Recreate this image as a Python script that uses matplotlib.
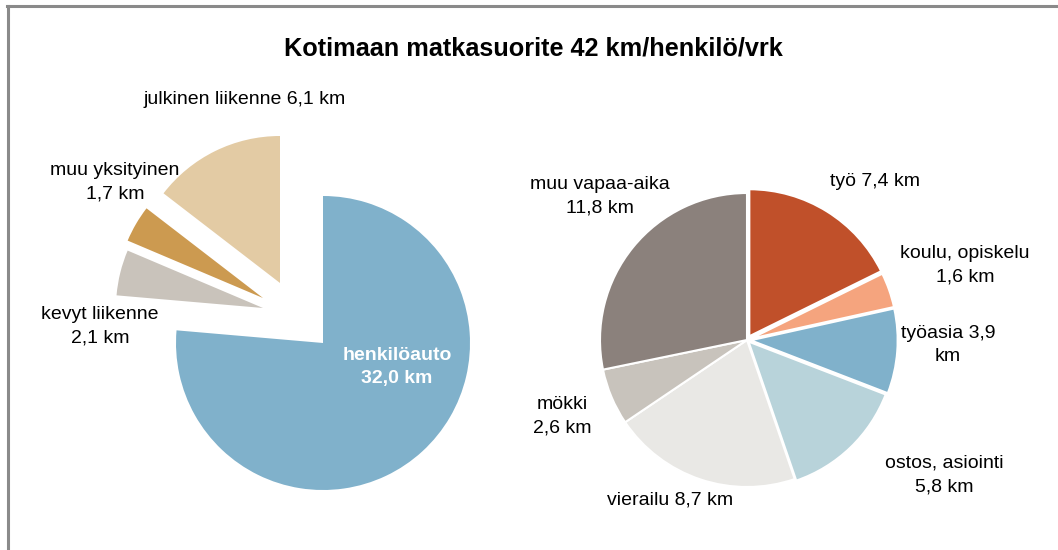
import matplotlib
matplotlib.use("Agg")
import matplotlib.pyplot as plt
from matplotlib.lines import Line2D

plt.rcParams['font.family'] = ['Liberation Sans', 'DejaVu Sans']

# Left pie: mode of transport (km/person/day)
left_labels = ["henkilöauto", "kevyt liikenne", "muu yksityinen", "julkinen liikenne"]
left_values = [32.0, 2.1, 1.7, 6.1]
left_colors = ["#80b1cb", "#c9c3bb", "#cc9a50", "#e3cba4"]
left_texts = ["henkilöauto\n32,0 km", "kevyt liikenne\n2,1 km", "muu yksityinen\n1,7 km",
              "julkinen liikenne 6,1 km"]

# Right pie: purpose of trip
right_labels = ["työ", "koulu, opiskelu", "työasia", "ostos, asiointi", "vierailu", "mökki", "muu vapaa-aika"]
right_values = [7.4, 1.6, 3.9, 5.8, 8.7, 2.6, 11.8]
right_colors = ["#c0502a", "#f5a47e", "#80b1cb", "#b8d3da", "#e9e8e5", "#c8c3bc", "#8b817c"]
right_texts = ["työ 7,4 km", "koulu, opiskelu\n1,6 km", "työasia 3,9\nkm", "ostos, asiointi\n5,8 km",
               "vierailu 8,7 km", "mökki\n2,6 km", "muu vapaa-aika\n11,8 km"]

title = "Kotimaan matkasuorite 42 km/henkilö/vrk"

W, H = 1058, 550
fig = plt.figure(figsize=(W / 100, H / 100), dpi=100)
ax = fig.add_axes([0, 0, 1, 1])
ax.set_axis_off()

def Y(y):
    return H - y

R = 147
LC = (323, Y(343))
RC = (747, Y(340))

# pulled-out slices of the left pie (style: offset of each wedge, in pixels)
left_offsets = [(0, 0), (-60, 35), (-60, 45), (-43, 60)]
right_explode = [f * R for f in [0.03, 0.025, 0.025, 0.015, 0, 0, 0]]

wl, _ = ax.pie(left_values, colors=left_colors, startangle=90, counterclock=False,
               center=LC, radius=R, wedgeprops=dict(linewidth=0))
for w, (dx, dy) in zip(wl, left_offsets):
    w.set_center((LC[0] + dx, LC[1] + dy))

ax.pie(right_values, colors=right_colors, startangle=90, counterclock=False,
       center=RC, radius=R, explode=right_explode,
       wedgeprops=dict(linewidth=1.5, edgecolor="white"))

ax.set_xlim(0, W)
ax.set_ylim(0, H)
ax.set_aspect('auto')

fs = 14
ls = 1.5
ax.text(397, Y(367), left_texts[0], ha='center', va='center', fontsize=fs, color='white',
        fontweight='bold', linespacing=ls)
ax.text(100, Y(326), left_texts[1], ha='center', va='center', fontsize=fs, linespacing=ls)
ax.text(115, Y(182), left_texts[2], ha='center', va='center', fontsize=fs, linespacing=ls)
ax.text(245, Y(100), left_texts[3], ha='center', va='center', fontsize=fs)

pos = [(875, 182), (965, 265), (948, 345), (944, 475), (670, 500), (562, 416), (600, 196)]
for (x, y), t in zip(pos, right_texts):
    ax.text(x, Y(y), t, ha='center', va='center', fontsize=fs, linespacing=ls)

ax.text(533, Y(48), title, ha='center', va='center', fontsize=18.2, fontweight='bold')

ax.add_line(Line2D([7, W], [Y(6), Y(6)], color='#8a8a8a', linewidth=2.2))
ax.add_line(Line2D([8, 8], [Y(6), 0], color='#8a8a8a', linewidth=2.2))

fig.savefig("out.png", dpi=100)
